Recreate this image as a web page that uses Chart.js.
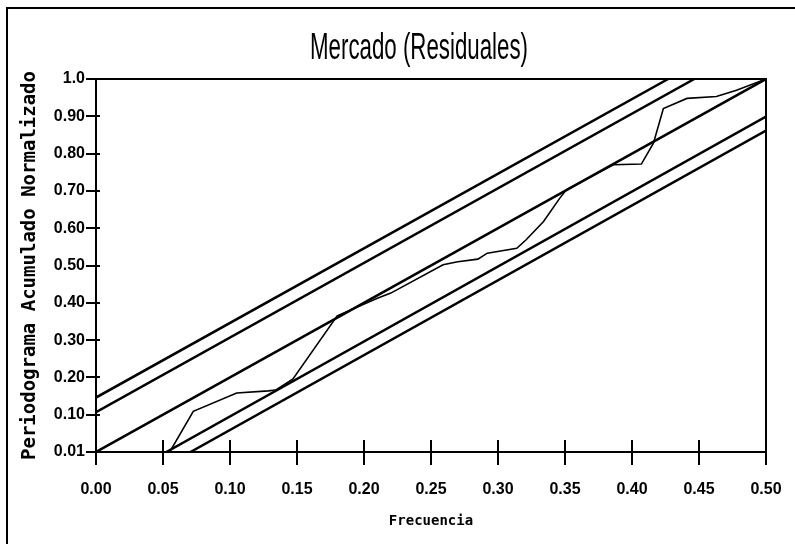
<!DOCTYPE html>
<html>
<head>
<meta charset="utf-8">
<script src="https://cdn.jsdelivr.net/npm/chart.js@4/dist/chart.umd.min.js"></script>
<style>
  html, body { margin: 0; padding: 0; background: #fff; }
  #wrap { width: 795px; height: 544px; position: relative; }
</style>
</head>
<body>
<div id="wrap"><canvas id="c" width="795" height="544"></canvas></div>
<script>
// ---- data ----
const chartTitle = 'Mercado (Residuales)';
const xTitle = 'Frecuencia';
const yTitle = 'Periodograma Acumulado Normalizado';

const xTickValues = [0, 0.05, 0.10, 0.15, 0.20, 0.25, 0.30, 0.35, 0.40, 0.45, 0.50];
const xTickLabels = ['0.00', '0.05', '0.10', '0.15', '0.20', '0.25', '0.30', '0.35', '0.40', '0.45', '0.50'];
const yTickValues = [0, 0.1, 0.2, 0.3, 0.4, 0.5, 0.6, 0.7, 0.8, 0.9, 1.0];
const yTickLabels = ['0.01', '0.10', '0.20', '0.30', '0.40', '0.50', '0.60', '0.70', '0.80', '0.90', '1.0'];

// cumulative normalized periodogram of the residuals
const freq = [0.055, 0.0726, 0.105, 0.1286, 0.134, 0.147, 0.18, 0.21, 0.22, 0.259, 0.27, 0.285, 0.292, 0.314, 0.321, 0.334, 0.346, 0.351, 0.386, 0.407, 0.416, 0.4234, 0.441, 0.463, 0.478, 0.5];
const cumPer = [0.0, 0.109, 0.158, 0.164, 0.166, 0.196, 0.365, 0.412, 0.426, 0.502, 0.51, 0.517, 0.533, 0.546, 0.569, 0.618, 0.68, 0.703, 0.77, 0.772, 0.828, 0.921, 0.948, 0.953, 0.97, 1.0];

// reference diagonal and confidence bands (end points)
const diagFreq = [0, 0.5];
const diagVal = [0, 1.0];
const upperOuterFreq = [0, 0.427];
const upperOuterVal = [0.146, 1.0];
const upperInnerFreq = [0, 0.4465];
const upperInnerVal = [0.107, 1.0];
const lowerInnerFreq = [0.0525, 0.5];
const lowerInnerVal = [0, 0.899];
const lowerOuterFreq = [0.0705, 0.5];
const lowerOuterVal = [0, 0.862];

// ---- build ----
const pts = (xs, ys) => xs.map((x, i) => ({ x: x, y: ys[i] }));
const sans = "'Liberation Sans',Arial,sans-serif";
const mono = "'DejaVu Sans Mono','Liberation Mono',monospace";

const bandStyle = { borderColor: '#000', borderWidth: 2.5, pointRadius: 0, showLine: true, tension: 0, fill: false };

const framePlugin = {
  id: 'frame',
  beforeDraw(chart) {
    const ctx = chart.ctx;
    ctx.save();
    ctx.fillStyle = '#fff';
    ctx.fillRect(0, 0, chart.width, chart.height);
    // outer page border (left and top)
    ctx.strokeStyle = '#000';
    ctx.lineWidth = 2;
    ctx.beginPath();
    ctx.moveTo(7, chart.height);
    ctx.lineTo(7, 8);
    ctx.lineTo(chart.width, 8);
    ctx.stroke();
    // title (condensed look via horizontal scaling to the reference width)
    const a = chart.chartArea;
    const cx = (a.left + a.right) / 2 - 12;
    ctx.font = '36px ' + sans;
    const w = ctx.measureText(chartTitle).width;
    ctx.translate(cx, 59);
    ctx.scale(218 / w, 1);
    ctx.fillStyle = '#000';
    ctx.textAlign = 'center';
    ctx.textBaseline = 'alphabetic';
    ctx.fillText(chartTitle, 0, 0);
    ctx.restore();
  },
  afterDraw(chart) {
    const ctx = chart.ctx;
    const a = chart.chartArea;
    const xs = chart.scales.x, ys = chart.scales.y;
    ctx.save();
    ctx.strokeStyle = '#000';
    ctx.lineWidth = 2;
    ctx.strokeRect(a.left, a.top, a.right - a.left, a.bottom - a.top);
    ctx.beginPath();
    xs.ticks.forEach(t => {
      const px = Math.round(xs.getPixelForValue(t.value));
      ctx.moveTo(px, a.bottom - 12);
      ctx.lineTo(px, a.bottom + 13);
    });
    ys.ticks.forEach(t => {
      const py = Math.round(ys.getPixelForValue(t.value));
      ctx.moveTo(a.left - 10, py);
      ctx.lineTo(a.left + 4, py);
    });
    ctx.stroke();
    ctx.restore();
  }
};

new Chart(document.getElementById('c'), {
  type: 'scatter',
  data: {
    datasets: [
      Object.assign({ label: 'Diagonal', data: pts(diagFreq, diagVal) }, bandStyle),
      Object.assign({ label: 'Banda sup. ext.', data: pts(upperOuterFreq, upperOuterVal) }, bandStyle),
      Object.assign({ label: 'Banda sup. int.', data: pts(upperInnerFreq, upperInnerVal) }, bandStyle),
      Object.assign({ label: 'Banda inf. int.', data: pts(lowerInnerFreq, lowerInnerVal) }, bandStyle),
      Object.assign({ label: 'Banda inf. ext.', data: pts(lowerOuterFreq, lowerOuterVal) }, bandStyle),
      { label: 'Periodograma', data: pts(freq, cumPer), borderColor: '#000', borderWidth: 1.6, pointRadius: 0, showLine: true, tension: 0, fill: false }
    ]
  },
  options: {
    responsive: false,
    animation: false,
    devicePixelRatio: 1,
    layout: { padding: { top: 79, right: 29, left: 0, bottom: 0 } },
    plugins: { legend: { display: false }, tooltip: { enabled: false }, title: { display: false } },
    scales: {
      x: {
        type: 'linear', min: 0, max: 0.5,
        afterBuildTicks: s => { s.ticks = xTickValues.map(v => ({ value: v })); },
        afterFit: s => { s.height = 92; s.paddingLeft = 0; s.paddingRight = 0; },
        ticks: { callback: (v, i) => xTickLabels[i], color: '#000', padding: 28, maxRotation: 0, autoSkip: false,
                 font: { family: sans, size: 16, weight: 'bold' } },
        grid: { display: false, drawTicks: false },
        border: { display: false },
        title: { display: true, text: xTitle, color: '#000', padding: { top: 0, bottom: 14 },
                 font: { family: mono, size: 14, weight: 'bold' } }
      },
      y: {
        type: 'linear', min: 0, max: 1,
        afterBuildTicks: s => { s.ticks = yTickValues.map(v => ({ value: v })); },
        afterFit: s => { s.width = 96; s.paddingTop = 0; s.paddingBottom = 0; },
        ticks: { callback: (v, i) => yTickLabels[i], color: '#000', padding: 11, autoSkip: false,
                 font: { family: sans, size: 16, weight: 'bold' } },
        grid: { display: false, drawTicks: false },
        border: { display: false },
        title: { display: true, text: yTitle, color: '#000', padding: { top: 19, bottom: 0 },
                 font: { family: mono, size: 19, weight: 'bold' } }
      }
    }
  },
  plugins: [framePlugin]
});
</script>
</body>
</html>
